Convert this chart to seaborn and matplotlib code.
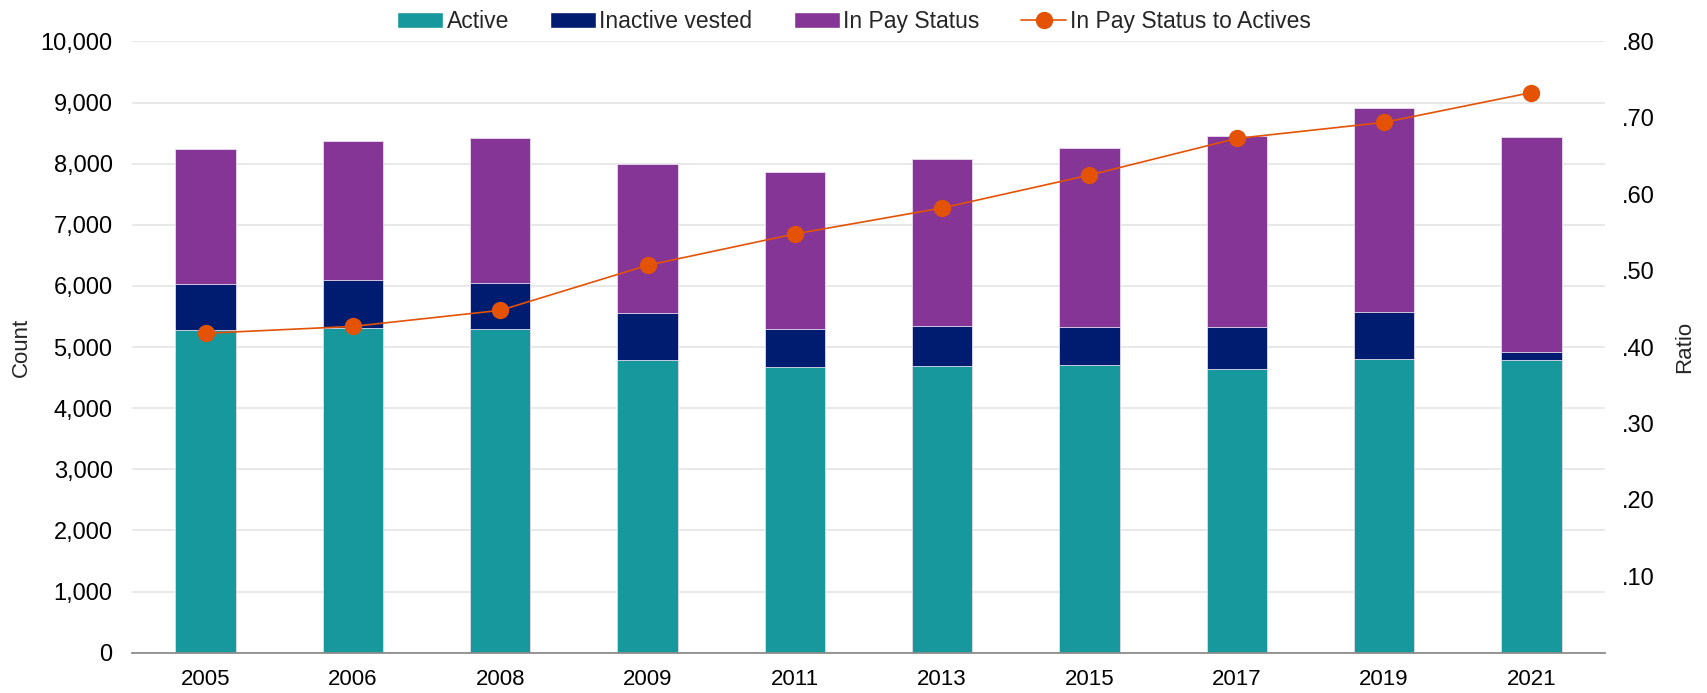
import matplotlib
matplotlib.use("Agg")
import matplotlib.pyplot as plt
import seaborn as sns
import numpy as np
import pandas as pd
from matplotlib.ticker import FuncFormatter, FixedLocator
from matplotlib.patches import Patch
from matplotlib.lines import Line2D

years = ["2005", "2006", "2008", "2009", "2011", "2013", "2015", "2017", "2019", "2021"]
active = [5274, 5312, 5295, 4783, 4674, 4695, 4701, 4636, 4804, 4788]
inactive_vested = [762, 790, 748, 779, 626, 649, 622, 687, 774, 136]
in_pay_status = [2199, 2269, 2372, 2428, 2569, 2732, 2938, 3125, 3337, 3512]
ratio = [0.418, 0.427, 0.448, 0.507, 0.548, 0.582, 0.625, 0.673, 0.694, 0.733]

labels = ["Active", "Inactive vested", "In Pay Status", "In Pay Status to Actives"]
colors = ["#17989C", "#001C71", "#843595", "#E35205"]

sns.set_theme(style="white")
plt.rcParams["font.family"] = ["Liberation Sans", "DejaVu Sans"]

df = pd.DataFrame({
    "year": years,
    "active": active,
    "inactive": inactive_vested,
    "inpay": in_pay_status,
    "ratio": ratio,
})
df["lvl1"] = df["active"]
df["lvl2"] = df["active"] + df["inactive"]
df["lvl3"] = df["lvl2"] + df["inpay"]

fig = plt.figure(figsize=(17.08, 6.93), dpi=100)
ax = fig.add_axes([0.0773, 0.0582, 0.8624, 0.8821])

bw = 0.41
for col, c in [("lvl3", colors[2]), ("lvl2", colors[1]), ("lvl1", colors[0])]:
    sns.barplot(data=df, x="year", y=col, color=c, width=bw, ax=ax,
                saturation=1, edgecolor="#E8DDF0", linewidth=0.6, zorder=2)

ax.set_ylim(0, 10000)
ax.set_xlim(-0.5, len(years) - 0.5)
ax.yaxis.set_major_locator(FixedLocator(np.arange(0, 10001, 1000)))
ax.yaxis.set_major_formatter(FuncFormatter(lambda v, p: f"{int(v):,}"))
ax.grid(axis="y", color="#E3E3E3", linewidth=1.1, zorder=0)
ax.set_axisbelow(True)
for s in ["top", "right", "left"]:
    ax.spines[s].set_visible(False)
ax.spines["bottom"].set_color("#8C8C8C")
ax.spines["bottom"].set_linewidth(1.3)
ax.tick_params(axis="x", length=0, labelsize=16, colors="black", pad=12)
ax.tick_params(axis="y", length=0, labelsize=17, colors="black", pad=14)
ax.set_xlabel("")
ax.set_ylabel("Count", fontsize=16, labelpad=6)

ax2 = ax.twinx()
sns.lineplot(data=df, x="year", y="ratio", color=colors[3], marker="o",
             markersize=12.5, markeredgewidth=0, linewidth=1.2, ax=ax2, zorder=5, sort=False)
ax2.set_ylim(0, 0.8)
ax2.set_xlim(-0.5, len(years) - 0.5)
ax2.yaxis.set_major_locator(FixedLocator(np.arange(0.1, 0.81, 0.1)))
ax2.yaxis.set_major_formatter(FuncFormatter(lambda v, p: f".{int(round(v*100)):02d}"))
for s in ["top", "right", "left", "bottom"]:
    ax2.spines[s].set_visible(False)
ax2.tick_params(axis="y", length=0, labelsize=17, colors="black", pad=12)
ax2.set_xlabel("")
ax2.set_ylabel("Ratio", fontsize=16, labelpad=14)
ax2.grid(False)

handles = [Patch(facecolor=colors[0]), Patch(facecolor=colors[1]), Patch(facecolor=colors[2]),
           Line2D([0], [0], color=colors[3], marker="o", markersize=12.5, markeredgewidth=0, linewidth=1.2)]
fig.legend(handles, labels, loc="center", bbox_to_anchor=(0.5, 0.969), ncol=4, frameon=False,
           fontsize=16.5, handlelength=2.0, handleheight=0.7, handletextpad=0.15, columnspacing=1.8)

fig.savefig("out.png", dpi=100)
